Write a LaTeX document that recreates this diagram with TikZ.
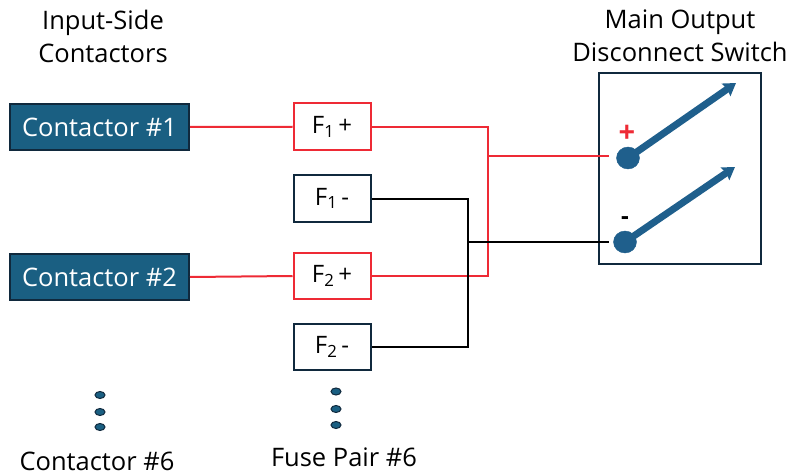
\documentclass[tikz,border=0pt]{standalone}
\usepackage{fontspec}
\setmainfont{Open Sans}
\usetikzlibrary{arrows.meta,calc,shapes.geometric}
\definecolor{bluefill}{HTML}{1A5F82}
\definecolor{navy}{HTML}{10293D}
\definecolor{redline}{HTML}{EE2A35}
\definecolor{armblue}{HTML}{1F5F8C}
\tikzset{
  contactor/.style={draw=navy,line width=2pt,fill=bluefill,text=white,minimum width=179pt,minimum height=45.5pt,inner sep=0pt,font=\fontsize{25.5}{28}\selectfont},
  fusebox/.style={draw=navy,line width=2pt,fill=white,text=black,minimum width=77pt,minimum height=46.5pt,inner sep=0pt,font=\fontsize{24}{26}\selectfont},
  fusered/.style={fusebox,draw=redline},
  label/.style={text=black,inner sep=0pt,font=\fontsize{25.5}{28}\selectfont},
  redwire/.style={draw=redline,line width=2pt},
  blackwire/.style={draw=black,line width=2pt},
  contact/.style={ellipse,fill=armblue,draw=armblue,minimum width=23pt,minimum height=22pt,inner sep=0pt},
  arm/.style={draw=armblue,line width=7pt,-{Stealth[length=12pt,width=15pt,inset=1.5pt]}},
  dotmark/.style={ellipse,fill=bluefill,draw=navy,line width=1pt,minimum width=10pt,minimum height=7pt,inner sep=0pt},
}
\begin{document}
\begin{tikzpicture}[x=1pt,y=-1pt]
\useasboundingbox (0,0) rectangle (790,476);
\node[label] (t1) at (103,23) {Input-Side};
\node[label] (t2) at (103,53) {Contactors};
\node[label] (t3) at (680,22) {Main Output};
\node[label] (t4) at (680,52) {Disconnect Switch};
\node[contactor] (c1) at (99.5,127) {Contactor \#1};
\node[contactor] (c2) at (99.5,277) {Contactor \#2};
\node[fusered] (fp1) at (332,126.75) {F\textsubscript{1}\,+};
\node[fusebox] (fm1) at (332,198.5) {F\textsubscript{1}\,-};
\node[fusered] (fp2) at (332,276) {F\textsubscript{2}\,+};
\node[fusebox] (fm2) at (332,347) {F\textsubscript{2}\,-};
\node[draw=navy,line width=2pt,minimum width=161.5pt,minimum height=191pt,inner sep=0pt] (sw) at (680,168.5) {};
\node[contact] (k1) at (628,158) {};
\node[contact] (k2) at (625,242) {};
\coordinate (a1) at (736,83);
\coordinate (a2) at (735,167);
\draw[arm] (k1.center) -- (a1);
\draw[arm] (k2.center) -- (a2);
\node[text=redline,inner sep=0pt,font=\fontsize{29}{30}\bfseries\selectfont] (plus) at (627,134) {+};
\node[text=black,inner sep=0pt,font=\fontsize{24}{26}\bfseries\selectfont] (minus) at (625,221) {-};
\coordinate (rj) at (488,156);
\coordinate (bj) at (468,242);
\draw[redwire] (c1.east) -- (fp1.west);
\draw[redwire] (c2.east) -- (fp2.west);
\draw[redwire] (fp1.east) -| (rj) |- (fp2.east);
\draw[redwire] (rj) -- (sw.west |- rj) -- ++(11,0);
\draw[blackwire] (fm1.east) -| (bj) |- (fm2.east);
\draw[blackwire] (bj) -- (sw.west |- bj) -- ++(11,0);
\node[dotmark] (d1) at (100,395) {};
\node[dotmark] (d2) at (100,412) {};
\node[dotmark] (d3) at (100,427) {};
\node[dotmark] (d4) at (336,391.5) {};
\node[dotmark] (d5) at (336,409) {};
\node[dotmark] (d6) at (336,425) {};
\node[label] (c6) at (97,461) {Contactor \#6};
\node[label] (f6) at (344,457) {Fuse Pair \#6};
\end{tikzpicture}
\end{document}
